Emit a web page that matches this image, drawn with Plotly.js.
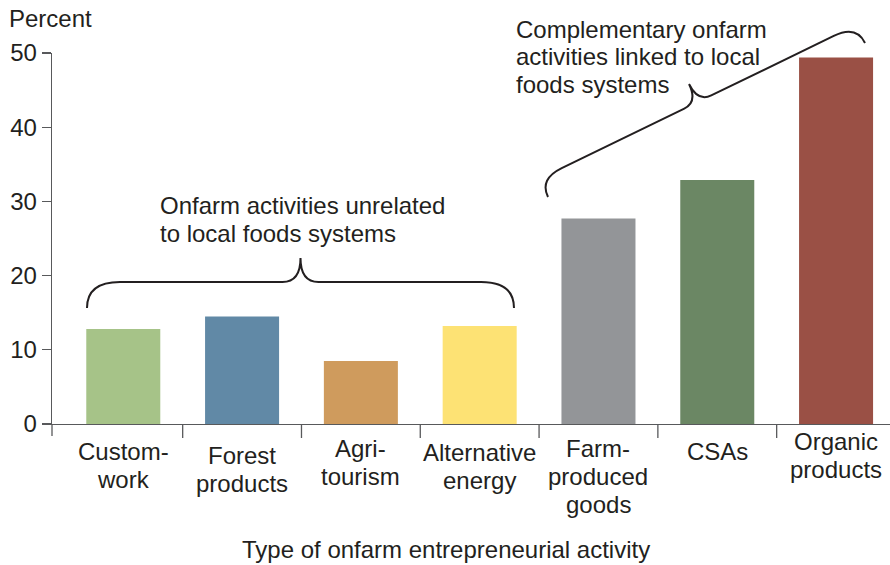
<!DOCTYPE html>
<html>
<head>
<meta charset="utf-8">
<script src="https://cdn.plot.ly/plotly-3.0.1.min.js"></script>
<style>html,body{margin:0;padding:0;background:#fff;}#chart{width:890px;height:565px;}</style>
</head>
<body>
<div id="chart"></div>
<script>
const categories = ['Custom-work', 'Forest products', 'Agri-tourism', 'Alternative energy', 'Farm-produced goods', 'CSAs', 'Organic products'];
const categoryLabelLines = [['Custom-', 'work'], ['Forest', 'products'], ['Agri-', 'tourism'], ['Alternative', 'energy'], ['Farm-', 'produced', 'goods'], ['CSAs'], ['Organic', 'products']];
const values = [12.8, 14.5, 8.5, 13.2, 27.7, 32.9, 49.4];
const barColors = ['#a6c388', '#6189a6', '#cf9b5d', '#fde274', '#939598', '#6b8764', '#9a5045'];
const yTicks = [0, 10, 20, 30, 40, 50];
const groupNote1 = ['Onfarm activities unrelated', 'to local foods systems'];
const groupNote2 = ['Complementary onfarm', 'activities linked to local', 'foods systems'];
const yTitle = 'Percent';
const xTitle = 'Type of onfarm entrepreneurial activity';

// layout / style (pixel positions of label text, not data)
const labelFirstCenter = [451, 455, 448, 452.5, 448, 451, 441];
const labelLineGap = 28;

const W = 890, H = 565;
const M = {l: 52, r: 0, t: 53, b: 141};
const PW = W - M.l - M.r, PH = H - M.t - M.b;
const px = x => (x - M.l) / PW;
const py = y => (H - M.b - y) / PH;

const textColor = '#231f20';
const axisColor = '#58595b';
const FONT = 'Liberation Sans, Arial, Helvetica, sans-serif';
const FS = 24;

function bracePath(x1, y1, x2, y2, w, h, r, r2) {
  const dx = x2 - x1, dy = y2 - y1, L = Math.hypot(dx, dy);
  const ux = dx / L, uy = dy / L, nx = uy, ny = -ux;
  const mx = (x1 + x2) / 2, my = (y1 + y2) / 2;
  const P = (x, y) => px(x).toFixed(5) + ',' + py(y).toFixed(5);
  const pt = (bx, by, a, b) => P(bx + nx * a + ux * b, by + ny * a + uy * b);
  return 'M' + P(x1, y1) +
    ' Q' + pt(x1, y1, w, 0) + ' ' + pt(x1, y1, w, r) +
    ' L' + pt(mx, my, w, -r2) +
    ' Q' + pt(mx, my, w, 0) + ' ' + pt(mx, my, w + h, 0) +
    ' Q' + pt(mx, my, w, 0) + ' ' + pt(mx, my, w, r2) +
    ' L' + pt(x2, y2, w, -r) +
    ' Q' + pt(x2, y2, w, 0) + ' ' + P(x2, y2);
}

const shapes = [];
for (let i = 0; i < categories.length - 1; i++) {
  shapes.push({type: 'line', xref: 'x', yref: 'paper', x0: i + 0.5, x1: i + 0.5, y0: 0, y1: -14 / PH,
    line: {color: axisColor, width: 1.3}});
}
shapes.push({type: 'line', xref: 'paper', yref: 'paper', x0: 0, x1: 0, y0: 0, y1: -12 / PH,
  line: {color: axisColor, width: 1.3}});
shapes.push({type: 'path', xref: 'paper', yref: 'paper', path: bracePath(87, 308, 514, 308, 26, 24, 33, 18),
  line: {color: textColor, width: 2}});
shapes.push({type: 'path', xref: 'paper', yref: 'paper', path: bracePath(548, 197, 865, 43, 20, 20, 25, 15),
  line: {color: textColor, width: 2}});

const annotations = [];
const txt = (t, x, y, xanchor, xref) => ({text: t, xref: xref || 'paper', yref: 'paper', x: x, y: y,
  xanchor: xanchor, yanchor: 'middle', showarrow: false, font: {family: FONT, size: FS, color: textColor}});
const note1Y = [205.5, 233];
groupNote1.forEach((t, i) => annotations.push(txt(t, px(158), py(note1Y[i]), 'left')));
const note2Y = [29.7, 57, 84.5];
groupNote2.forEach((t, i) => annotations.push(txt(t, px(514), py(note2Y[i]), 'left')));
annotations.push(txt(yTitle, px(7), py(18.8), 'left'));
annotations.push(txt(xTitle, px(445.5), py(549), 'center'));
categoryLabelLines.forEach((lines, c) => lines.forEach((t, j) =>
  annotations.push(txt(t, categories[c], py(labelFirstCenter[c] + j * labelLineGap), 'center', 'x'))));

const data = [{
  type: 'bar', x: categories, y: values, width: 0.623,
  marker: {color: barColors, line: {width: 0}}, hoverinfo: 'none'
}];

const layout = {
  width: W, height: H, margin: M, showlegend: false,
  paper_bgcolor: '#fff', plot_bgcolor: '#fff',
  font: {family: FONT, size: FS, color: textColor},
  xaxis: {type: 'category', range: [-0.6, 6.454], showline: true, linecolor: axisColor, linewidth: 1.3,
    ticks: '', showticklabels: false, showgrid: false, zeroline: false, fixedrange: true},
  yaxis: {range: [0, 50], tickvals: yTicks, showline: true, linecolor: axisColor, linewidth: 1.3,
    ticks: 'outside', ticklen: 9, tickcolor: axisColor, tickwidth: 1.3, showgrid: false, zeroline: false,
    tickfont: {family: FONT, size: FS, color: textColor}, fixedrange: true},
  shapes: shapes, annotations: annotations
};

Plotly.newPlot('chart', data, layout, {displayModeBar: false, staticPlot: true});
</script>
</body>
</html>
